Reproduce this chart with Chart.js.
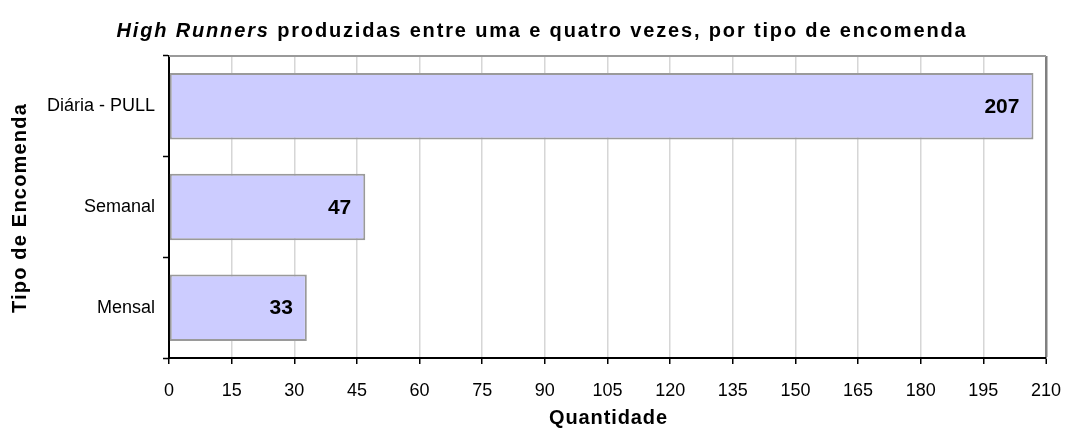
<!DOCTYPE html>
<html>
<head>
<meta charset="utf-8">
<script src="https://cdn.jsdelivr.net/npm/chart.js@4.4.1/dist/chart.umd.min.js"></script>
<style>
  html, body { margin: 0; padding: 0; background: #ffffff; }
  #wrap { width: 1070px; height: 432px; position: relative; }
</style>
</head>
<body>
<div id="wrap"><canvas id="c" width="1070" height="432"></canvas></div>
<script>
const categories = ['Diária - PULL', 'Semanal', 'Mensal'];
const quantities = [207, 47, 33];
const xTicks = [0, 15, 30, 45, 60, 75, 90, 105, 120, 135, 150, 165, 180, 195, 210];
const titleItalic = 'High Runners';
const titleRest = ' produzidas entre uma e quatro vezes, por tipo de encomenda';
const yTitle = 'Tipo de Encomenda';
const xTitle = 'Quantidade';

const FONT = '"Liberation Sans", Arial, sans-serif';

const textPlugin = {
  id: 'textPlugin',
  afterDraw(chart) {
    const ctx = chart.ctx;
    const area = chart.chartArea;
    const hasLS = ('letterSpacing' in ctx);
    ctx.save();
    // top border of plot
    ctx.strokeStyle = '#9a9a9a';
    ctx.lineWidth = 2;
    ctx.beginPath();
    ctx.moveTo(area.left, area.top);
    ctx.lineTo(area.right, area.top);
    ctx.stroke();

    // Title (mixed italic)
    const fItal = 'italic bold 20px ' + FONT;
    const fBold = 'bold 20px ' + FONT;
    ctx.fillStyle = '#000';
    ctx.textBaseline = 'middle';
    ctx.textAlign = 'left';
    if (hasLS) ctx.letterSpacing = '0px';
    ctx.font = fItal; const w1 = ctx.measureText(titleItalic).width;
    ctx.font = fBold; const w2 = ctx.measureText(titleRest).width;
    const targetW = 851;
    const nChars = titleItalic.length + titleRest.length;
    let sp = Math.max(0, (targetW - w1 - w2) / nChars);
    if (!hasLS) sp = 0;
    const total = w1 + w2 + sp * nChars;
    let x = 542 - total / 2;
    const ty = 31;
    if (hasLS) ctx.letterSpacing = sp + 'px';
    ctx.font = fItal;
    ctx.fillText(titleItalic, x, ty);
    x += ctx.measureText(titleItalic).width;
    ctx.font = fBold;
    ctx.fillText(titleRest, x, ty);

    // X axis title
    ctx.font = 'bold 20px ' + FONT;
    if (hasLS) ctx.letterSpacing = '0.9px';
    ctx.textAlign = 'center';
    ctx.fillText(xTitle, (area.left + area.right) / 2 + 1, 418);

    // Y axis title
    ctx.save();
    ctx.translate(20, 208);
    ctx.rotate(-Math.PI / 2);
    if (hasLS) ctx.letterSpacing = '1.2px';
    ctx.fillText(yTitle, 0, 0);
    ctx.restore();

    // Value labels
    if (hasLS) ctx.letterSpacing = '0px';
    ctx.font = 'bold 21px ' + FONT;
    ctx.textAlign = 'right';
    const meta = chart.getDatasetMeta(0);
    meta.data.forEach((bar, i) => {
      ctx.fillText(String(chart.data.datasets[0].data[i]), bar.x - 14, bar.y + 1);
    });
    ctx.restore();
  }
};

new Chart(document.getElementById('c'), {
  type: 'bar',
  data: {
    labels: categories,
    datasets: [{
      data: quantities,
      backgroundColor: '#CCCCFF',
      borderColor: '#9a9a9a',
      borderWidth: 2,
      borderSkipped: false,
      barPercentage: 0.66,
      categoryPercentage: 1.0
    }]
  },
  options: {
    indexAxis: 'y',
    responsive: false,
    animation: false,
    devicePixelRatio: 1,
    layout: { padding: { top: 56, right: 24, left: 0, bottom: 0 } },
    plugins: { legend: { display: false }, tooltip: { enabled: false }, title: { display: false } },
    scales: {
      x: {
        type: 'linear',
        min: xTicks[0],
        max: xTicks[xTicks.length - 1],
        afterBuildTicks(scale) { scale.ticks = xTicks.map(v => ({ value: v })); },
        afterFit(scale) { scale.height = 74; scale.paddingRight = 0; scale.paddingLeft = 0; },
        ticks: {
          color: '#000',
          font: { family: FONT, size: 18 },
          padding: 16,
          maxRotation: 0,
          autoSkip: false
        },
        grid: {
          color: (c) => (c.tick && c.tick.value === 210) ? '#808080' : '#d6d6d6',
          lineWidth: (c) => (c.tick && c.tick.value === 210) ? 2.5 : 1.5,
          tickColor: '#000',
          tickLength: 6,
          tickWidth: 1.5
        },
        border: { color: '#000', width: 2 }
      },
      y: {
        afterFit(scale) { scale.width = 169; scale.paddingTop = 0; scale.paddingBottom = 0; },
        ticks: {
          color: '#000',
          font: { family: FONT, size: 18 },
          padding: 8
        },
        grid: {
          drawOnChartArea: false,
          offset: true,
          tickColor: '#000',
          tickLength: 6,
          tickWidth: 1.5
        },
        border: { color: '#000', width: 2 }
      }
    }
  },
  plugins: [textPlugin]
});
</script>
</body>
</html>
